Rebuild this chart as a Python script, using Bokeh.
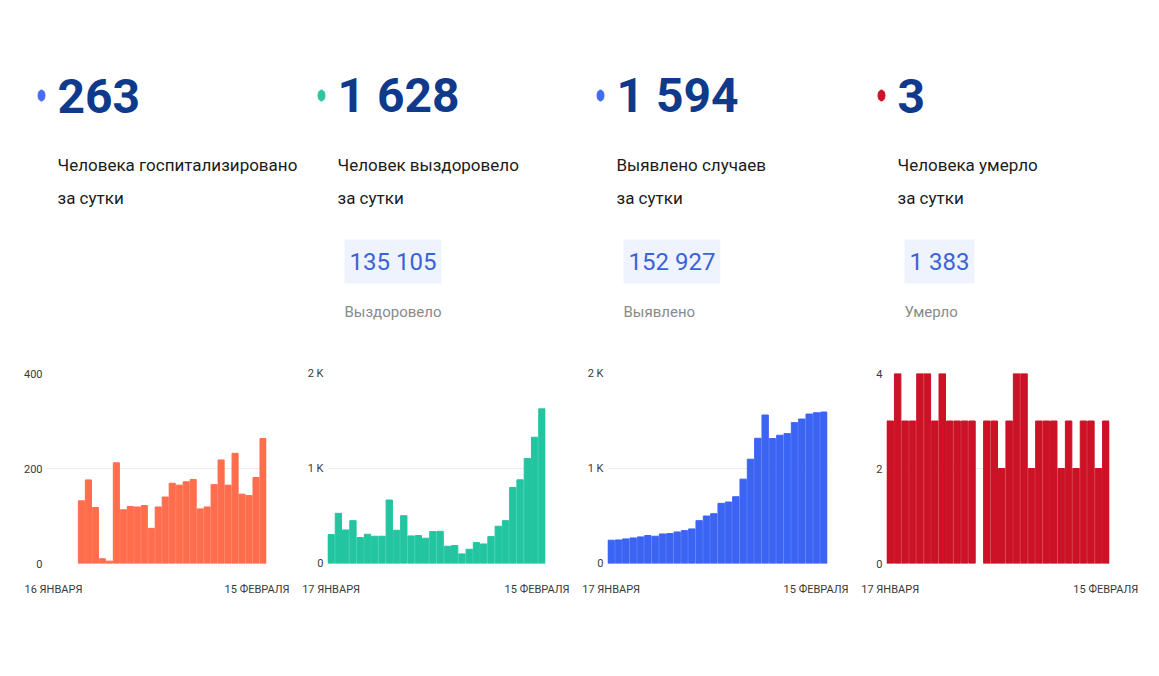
from bokeh.plotting import figure
from bokeh.layouts import column, row
from bokeh.models import Range1d, FixedTicker
from bokeh.core.properties import value
from bokeh.embed import file_html
from bokeh.resources import INLINE

NaN = float("nan")
FONT = "Roboto"

# ---------------- data ----------------
hosp_values = [NaN, NaN, NaN, NaN,
               132, 176, 118, 10, 5, 212, 113, 120, 119, 122,
               74, 119, 140, 169, 165, 172, 177, 115, 119, 166,
               218, 165, 232, 146, 143, 181, 263]
hosp_dates = ["16 ЯНВАРЯ", "15 ФЕВРАЛЯ"]
hosp_yticks = [0, 200, 400]
hosp_ylabels = ["0", "200", "400"]

recovered_values = [304, 528, 353, 451, 273, 308, 287, 287, 668, 350,
                    503, 290, 294, 266, 336, 339, 182, 189, 101, 150,
                    220, 206, 283, 392, 451, 801, 881, 1105, 1329, 1628]
recovered_dates = ["17 ЯНВАРЯ", "15 ФЕВРАЛЯ"]
recovered_total = 135105

cases_values = [245, 248, 259, 269, 280, 294, 287, 311, 315, 332,
                346, 364, 451, 500, 524, 633, 647, 703, 888, 1098,
                1318, 1563, 1315, 1350, 1367, 1483, 1521, 1573, 1587, 1594]
cases_dates = ["17 ЯНВАРЯ", "15 ФЕВРАЛЯ"]
cases_total = 152927

k_yticks = [0, 1000, 2000]
k_ylabels = ["0", "1 K", "2 K"]

deaths_values = [3, 4, 3, 3, 4, 4, 3, 4, 3, 3, 3, 3, NaN,
                 3, 3, 2, 3, 4, 4, 2, 3, 3, 3, 2, 3, 2, 3, 3, 2, 3]
deaths_dates = ["17 ЯНВАРЯ", "15 ФЕВРАЛЯ"]
deaths_total = 1383
deaths_yticks = [0, 2, 4]
deaths_ylabels = ["0", "2", "4"]

subtitles = ["Человека госпитализировано", "Человек выздоровело",
             "Выявлено случаев", "Человека умерло"]
subtitle2 = "за сутки"
total_labels = [None, "Выздоровело", "Выявлено", "Умерло"]
totals = [None, recovered_total, cases_total, deaths_total]

bar_colors = ["#ff6d4d", "#22c5a0", "#3c64f3", "#cc1226"]
dot_colors = ["#4a6cf5", "#2cc6a2", "#3f6cf3", "#d0102a"]


def fmt(v):
    return "{:,}".format(int(v)).replace(",", " ")


# ---------------- header (page pixel coordinates) ----------------
HW, HH = 1151, 352
h = figure(width=HW, height=HH, x_range=Range1d(0, HW), y_range=Range1d(HH, 0),
           output_backend="svg", toolbar_location=None,
           x_axis_location=None, y_axis_location=None, min_border=0,
           outline_line_color=None)
h.grid.visible = False

text_x = [57, 337, 616, 897]
dot_x = [41, 321, 600, 881]
series_last = [hosp_values[-1], recovered_values[-1], cases_values[-1], deaths_values[-1]]

h.ellipse(x=dot_x, y=[95] * 4, width=7, height=11, color=dot_colors)
h.text(x=text_x, y=[95] * 4, text=[fmt(v) for v in series_last],
       text_font=value(FONT), text_font_size="48px", text_font_style="bold",
       text_color="#0f3a8c", text_align="left", text_baseline="middle")
h.text(x=text_x, y=[164] * 4, text=subtitles,
       text_font=value(FONT), text_font_size="17px",
       text_color="#1b1b1b", text_align="left", text_baseline="middle")
h.text(x=text_x, y=[197] * 4, text=[subtitle2] * 4,
       text_font=value(FONT), text_font_size="17px",
       text_color="#1b1b1b", text_align="left", text_baseline="middle")

TS = 24
bx, btxt, gl = [], [], []
for i in range(4):
    if totals[i] is None:
        continue
    s = fmt(totals[i])
    w = sum(0.248 * TS if c == " " else 0.562 * TS for c in s)
    left = text_x[i] + 7
    h.quad(left=left, right=left + w + 10, top=239, bottom=283,
           fill_color="#eef3fd", line_color=None)
    bx.append(left + 5)
    btxt.append(s)
    gl.append(total_labels[i])
h.text(x=bx, y=[261] * len(bx), text=btxt, text_font=value(FONT), text_font_size=f"{TS}px",
       text_color="#3b63d8", text_align="left", text_baseline="middle")
h.text(x=[v - 5 for v in bx], y=[311] * len(bx), text=gl, text_font=value(FONT),
       text_font_size="15px", text_color="#8a8a8a", text_align="left",
       text_baseline="middle")


# ---------------- charts ----------------
def make_chart(values, color, dates, yticks, ylabels, fig_w, border_left, frame_w, pad_left=0.0):
    n = len(values)
    p = figure(width=fig_w, height=250,
               x_range=Range1d(-0.5 - pad_left, n - 0.5),
               y_range=Range1d(0, yticks[-1]),
               output_backend="svg", toolbar_location=None,
               min_border_left=border_left, min_border_right=fig_w - border_left - frame_w,
               min_border_top=21, min_border_bottom=39,
               outline_line_color=None)
    p.vbar(x=list(range(n)), top=values, width=0.87, color=color)
    p.xaxis.ticker = FixedTicker(ticks=[0, n - 1])
    p.xaxis.major_label_overrides = {0: dates[0], n - 1: dates[1]}
    p.yaxis.ticker = FixedTicker(ticks=yticks)
    p.yaxis.major_label_overrides = {t: l for t, l in zip(yticks, ylabels)}
    p.xgrid.visible = False
    p.ygrid.ticker = FixedTicker(ticks=yticks)
    p.ygrid.grid_line_color = "#ececec"
    for ax in (p.xaxis, p.yaxis):
        ax.axis_line_color = None
        ax.major_tick_line_color = None
        ax.minor_tick_line_color = None
        ax.major_tick_out = 0
        ax.major_tick_in = 0
        ax.minor_tick_out = 0
        ax.major_label_text_font = FONT
        ax.major_label_text_font_size = "11px"
        ax.major_label_text_color = "#3a3a3a"
    p.yaxis.major_label_standoff = 4
    p.xaxis.major_label_standoff = 19
    return p


c1 = make_chart(hosp_values, bar_colors[0], hosp_dates, hosp_yticks, hosp_ylabels, 289, 46, 220, pad_left=0.5)
c2 = make_chart(recovered_values, bar_colors[1], recovered_dates, k_yticks, k_ylabels, 280, 38, 218)
c3 = make_chart(cases_values, bar_colors[2], cases_dates, k_yticks, k_ylabels, 279, 38, 220)
c4 = make_chart(deaths_values, bar_colors[3], deaths_dates, deaths_yticks, deaths_ylabels, 291, 38, 223)

layout = column(h, row(c1, c2, c3, c4))

with open("out.html", "w") as f:
    f.write(file_html(layout, INLINE))
